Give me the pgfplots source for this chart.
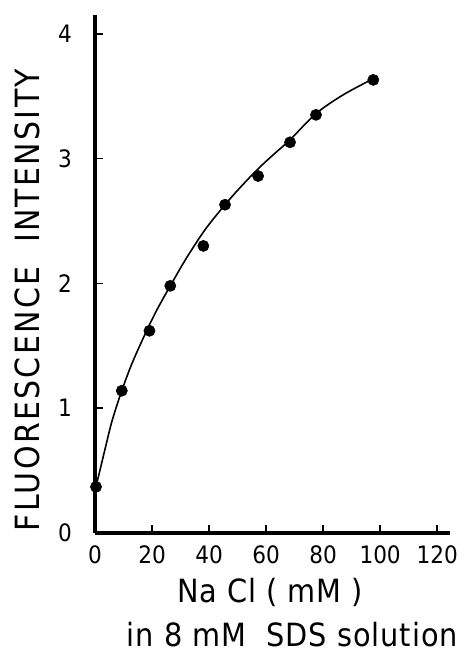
\documentclass[border=0pt]{standalone}
\usepackage{fontspec}
\setmainfont{DejaVu Sans Condensed}
\usepackage{pgfplots}
\pgfplotsset{compat=1.18}
\begin{document}
\begin{tikzpicture}
\path (-71.25pt,-94.5pt) rectangle (277.5pt,399.75pt);
\begin{axis}[
  scale only axis,
  width=266.25pt, height=388.5pt,
  xmin=0, xmax=124.5, ymin=0, ymax=4.15,
  axis lines=left,
  axis line style={-, line width=3pt},
  xtick={0,20,40,60,80,100,120},
  ytick={0,1,2,3,4},
  tick align=inside,
  tick pos=left,
  major tick length=6pt,
  tick style={line width=1.2pt, black},
  /pgf/number format/assume math mode=true,
  every x tick label/.style={anchor=center, yshift=-16pt},
  every y tick label/.style={anchor=center, xshift=-22.5pt},
  tick label style={font=\fontsize{18}{19}\selectfont},
  clip=false,
]
\addplot[smooth, line width=1.2pt, black] coordinates {
(0,0.30) (0.35,0.37) (1.5,0.48) (3.5,0.67) (6,0.90) (9.4,1.14) (13,1.36)
(18.1,1.62) (22,1.80) (26.9,2.00) (32,2.20) (38.6,2.43) (45.6,2.63)
(51,2.77) (57.3,2.92) (63,3.04) (68.4,3.15) (77.5,3.36) (87,3.51) (97.6,3.64)
};
\addplot[only marks, mark=*, mark size=4.2pt, black] coordinates {
(0.35,0.37) (9.4,1.14) (19.1,1.62) (26.4,1.98) (38,2.30) (45.6,2.63)
(57.2,2.86) (68.4,3.13) (77.5,3.35) (97.6,3.63)
};
\end{axis}
\node[font=\fontsize{24}{26}\selectfont\addfontfeature{LetterSpace=3}] at (131.25pt,-44.25pt) {Na Cl ( mM )};
\node[font=\fontsize{24}{26}\selectfont\addfontfeature{LetterSpace=3}] at (148.1pt,-76.5pt) {in 8 mM\ \ SDS solution};
\node[font=\fontsize{25}{27}\selectfont\addfontfeature{LetterSpace=7}, rotate=90] at (-51pt,174.75pt) {FLUORESCENCE\ \ INTENSITY};
\end{tikzpicture}
\end{document}
